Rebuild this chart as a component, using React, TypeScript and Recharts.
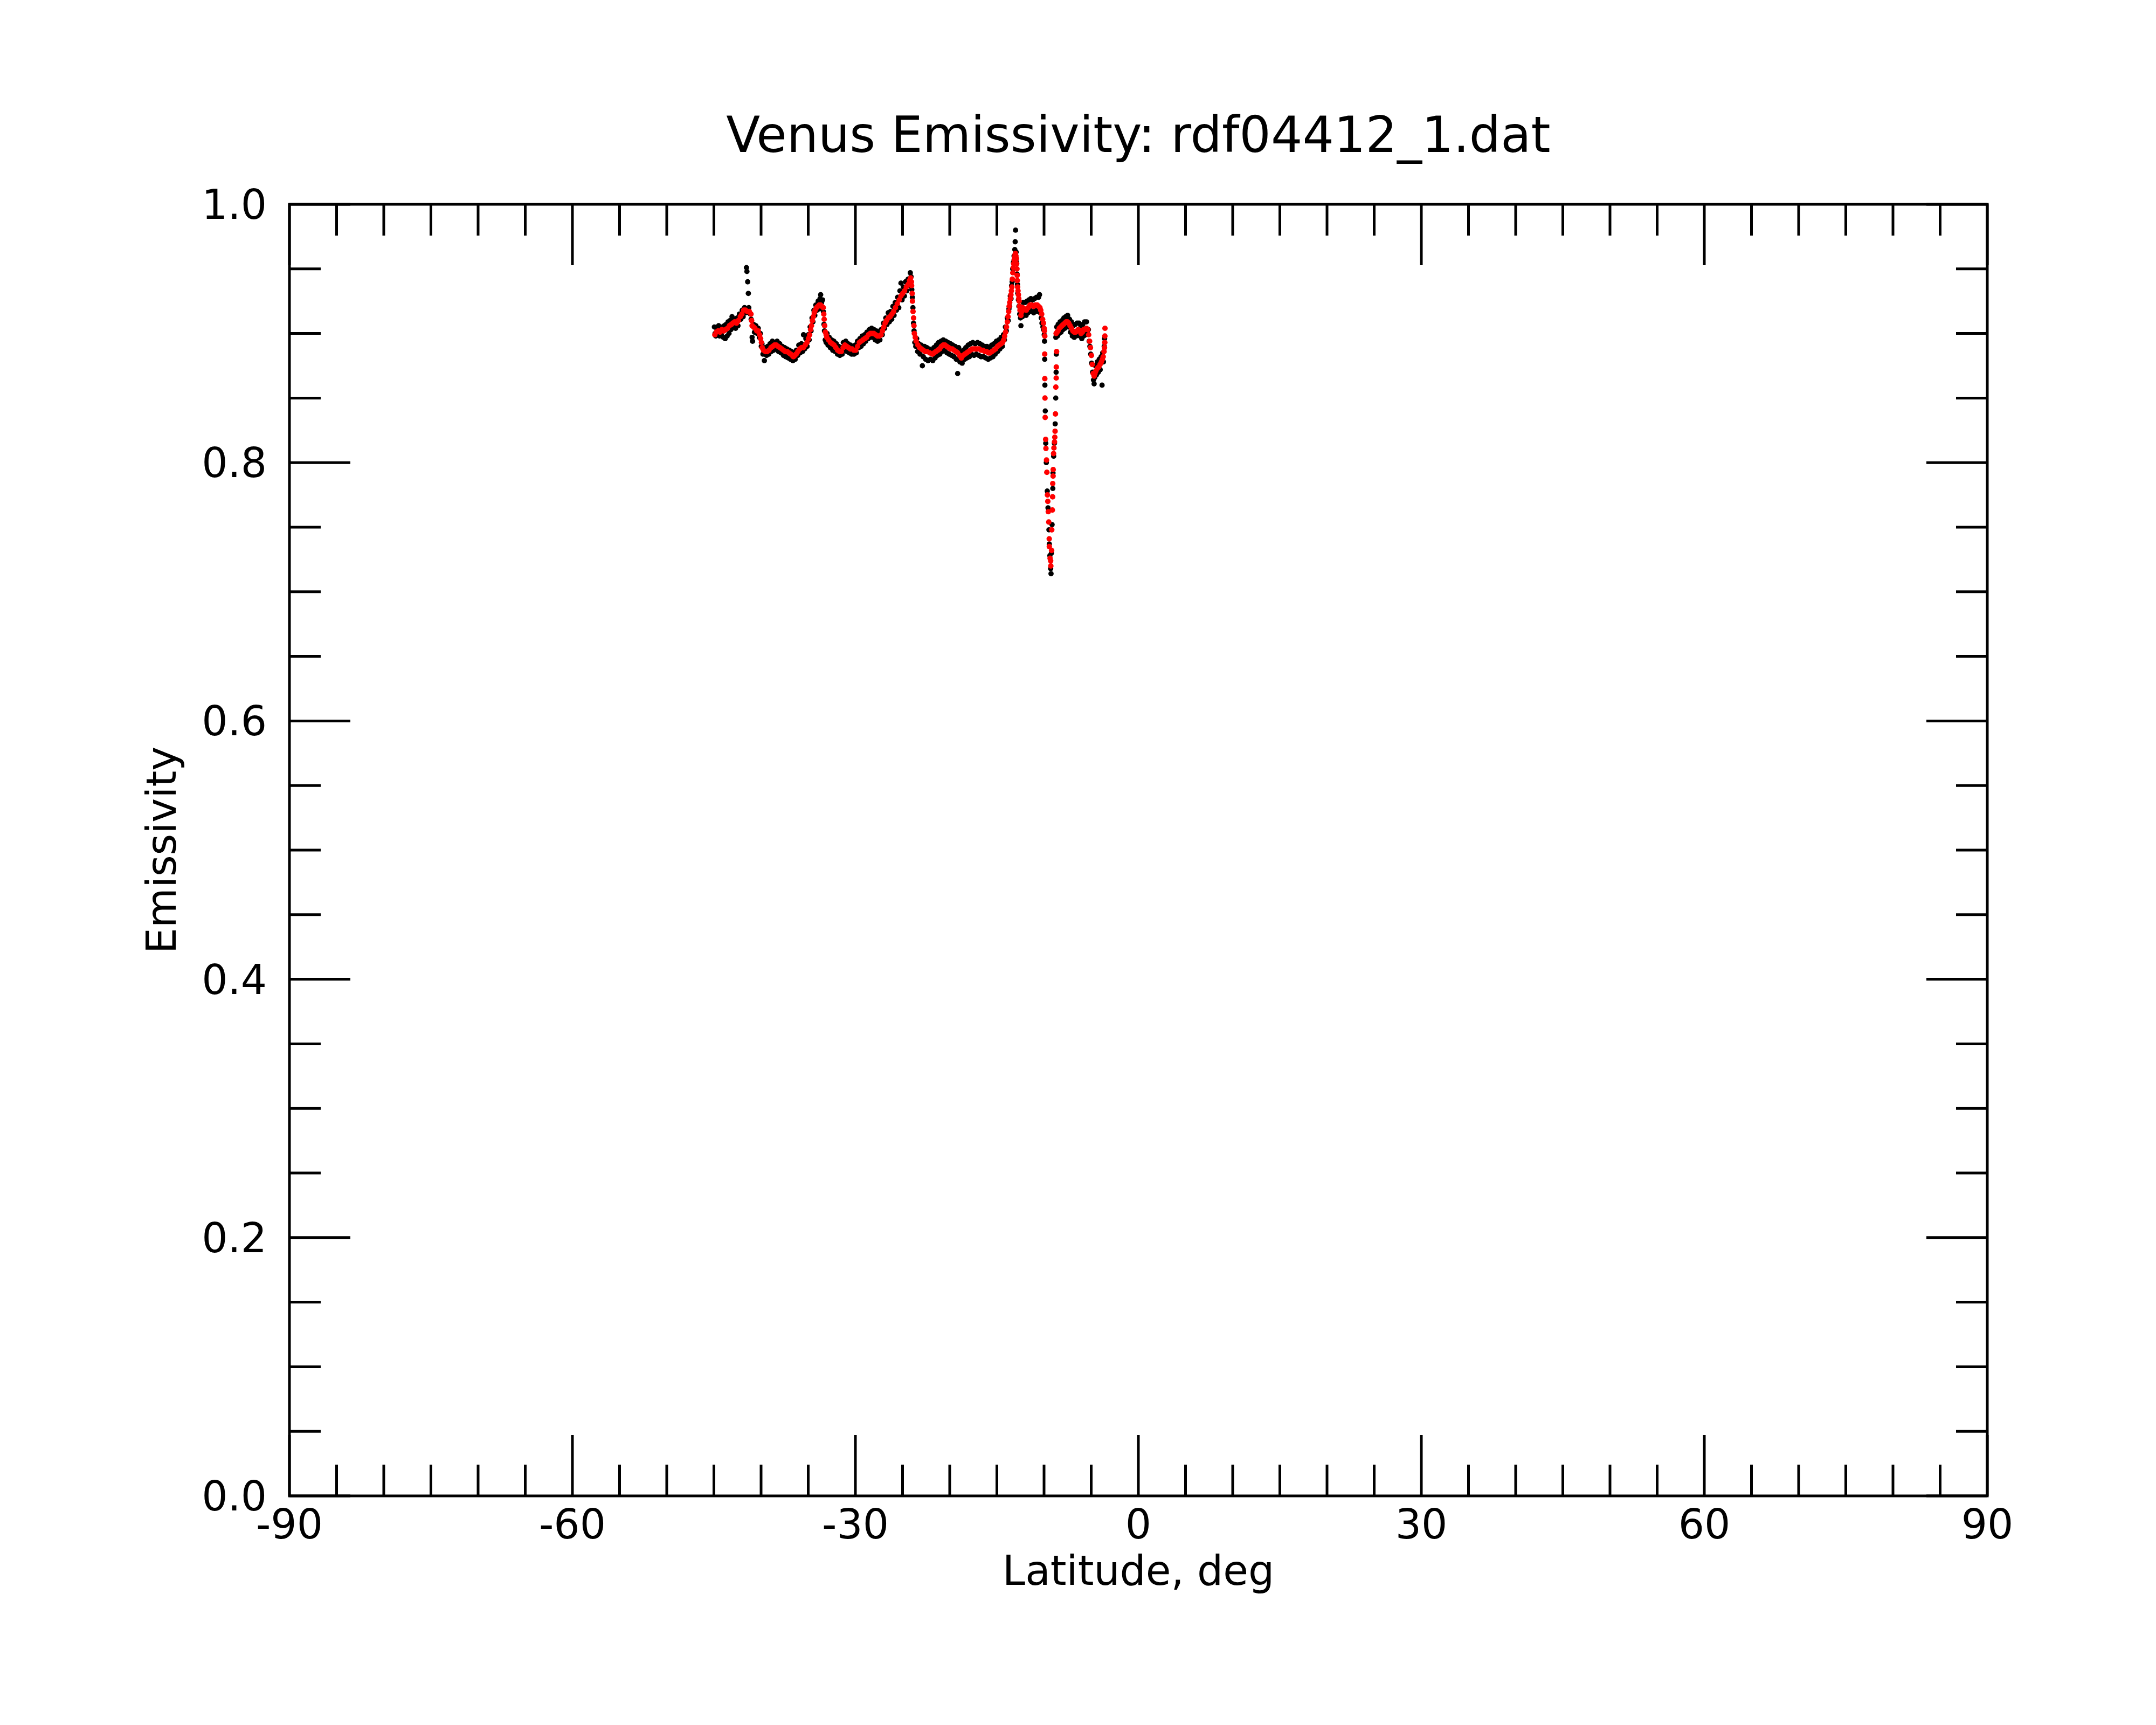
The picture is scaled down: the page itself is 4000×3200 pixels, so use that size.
import { ReferenceArea, Scatter, ScatterChart, XAxis, YAxis } from 'recharts'

const FONT = '"DejaVu Sans", sans-serif'

const title = 'Venus Emissivity: rdf04412_1.dat'
const xLabel = 'Latitude, deg'
const yLabel = 'Emissivity'

const xMajorTicks = [-90, -60, -30, 0, 30, 60, 90]
const xTicks = [
  -90, -85, -80, -75, -70, -65, -60, -55, -50, -45, -40, -35, -30, -25, -20, -15, -10, -5, 0,
  5, 10, 15, 20, 25, 30, 35, 40, 45, 50, 55, 60, 65, 70, 75, 80, 85, 90,
]
const yMajorTicks = [0, 0.2, 0.4, 0.6, 0.8, 1.0]
const yTicks = [
  0, 0.05, 0.1, 0.15, 0.2, 0.25, 0.3, 0.35, 0.4, 0.45, 0.5, 0.55, 0.6, 0.65, 0.7, 0.75, 0.8,
  0.85, 0.9, 0.95, 1.0,
]

// raw emissivity samples (black)
const rawPoints: [number, number][] = [
  [-44.95, 0.905], [-44.88, 0.9], [-44.8, 0.898], [-44.7, 0.904], [-44.62, 0.899], [-44.5, 0.906],
  [-44.4, 0.898], [-44.3, 0.904], [-44.2, 0.899], [-44.1, 0.905], [-44.0, 0.897], [-43.9, 0.906],
  [-43.8, 0.896], [-43.7, 0.907], [-43.6, 0.898], [-43.5, 0.909], [-43.4, 0.9], [-43.3, 0.91],
  [-43.2, 0.903], [-43.08, 0.913], [-42.95, 0.905], [-42.85, 0.911], [-42.7, 0.904], [-42.55, 0.912],
  [-42.45, 0.906], [-42.3, 0.915], [-42.15, 0.911], [-42.0, 0.918], [-41.9, 0.913], [-41.75, 0.92],
  [-41.62, 0.916], [-41.55, 0.951], [-41.5, 0.948], [-41.42, 0.94], [-41.35, 0.931], [-41.3, 0.92],
  [-41.15, 0.915], [-41.05, 0.911], [-40.95, 0.897], [-40.9, 0.894], [-40.8, 0.907], [-40.7, 0.901],
  [-40.55, 0.906], [-40.42, 0.9], [-40.3, 0.904], [-40.18, 0.897], [-40.08, 0.9], [-39.98, 0.89],
  [-39.9, 0.892], [-39.8, 0.884], [-39.65, 0.879], [-39.55, 0.889], [-39.42, 0.883], [-39.3, 0.89],
  [-39.18, 0.884], [-39.05, 0.892], [-38.92, 0.886], [-38.8, 0.894], [-38.68, 0.887], [-38.55, 0.893],
  [-38.42, 0.888], [-38.3, 0.894], [-38.15, 0.886], [-38.02, 0.892], [-37.9, 0.885], [-37.75, 0.89],
  [-37.62, 0.883], [-37.5, 0.889], [-37.38, 0.882], [-37.25, 0.888], [-37.12, 0.881], [-37.0, 0.887],
  [-36.88, 0.88], [-36.75, 0.886], [-36.62, 0.879], [-36.5, 0.885], [-36.38, 0.88], [-36.25, 0.887],
  [-36.12, 0.883], [-36.0, 0.891], [-35.85, 0.885], [-35.72, 0.892], [-35.6, 0.886], [-35.5, 0.899],
  [-35.38, 0.888], [-35.25, 0.896], [-35.12, 0.89], [-35.0, 0.899], [-34.9, 0.895], [-34.8, 0.905],
  [-34.7, 0.902], [-34.6, 0.912], [-34.5, 0.909], [-34.4, 0.918], [-34.3, 0.914], [-34.2, 0.922],
  [-34.08, 0.918], [-33.95, 0.925], [-33.85, 0.919], [-33.75, 0.927], [-33.68, 0.93], [-33.58, 0.924],
  [-33.48, 0.926], [-33.4, 0.917], [-33.33, 0.907], [-33.28, 0.902], [-33.2, 0.895], [-33.1, 0.893],
  [-33.0, 0.9], [-32.9, 0.891], [-32.78, 0.897], [-32.65, 0.889], [-32.52, 0.895], [-32.4, 0.887],
  [-32.28, 0.894], [-32.15, 0.886], [-32.02, 0.892], [-31.9, 0.884], [-31.78, 0.89], [-31.65, 0.883],
  [-31.52, 0.889], [-31.4, 0.884], [-31.28, 0.893], [-31.15, 0.887], [-31.02, 0.894], [-30.9, 0.886],
  [-30.78, 0.892], [-30.65, 0.885], [-30.52, 0.891], [-30.4, 0.884], [-30.28, 0.89], [-30.15, 0.884],
  [-30.02, 0.891], [-29.9, 0.885], [-29.78, 0.894], [-29.65, 0.889], [-29.52, 0.896], [-29.4, 0.89],
  [-29.28, 0.898], [-29.15, 0.892], [-29.02, 0.899], [-28.9, 0.894], [-28.78, 0.901], [-28.65, 0.896],
  [-28.52, 0.903], [-28.4, 0.897], [-28.28, 0.904], [-28.15, 0.897], [-28.02, 0.903], [-27.9, 0.895],
  [-27.78, 0.902], [-27.65, 0.894], [-27.52, 0.901], [-27.4, 0.895], [-27.28, 0.903], [-27.15, 0.899],
  [-27.02, 0.908], [-26.9, 0.904], [-26.78, 0.912], [-26.65, 0.907], [-26.52, 0.916], [-26.4, 0.909],
  [-26.28, 0.917], [-26.15, 0.911], [-26.02, 0.921], [-25.9, 0.914], [-25.78, 0.924], [-25.65, 0.918],
  [-25.52, 0.928], [-25.4, 0.92], [-25.28, 0.933], [-25.17, 0.939], [-25.05, 0.926], [-24.92, 0.936],
  [-24.8, 0.929], [-24.68, 0.94], [-24.55, 0.933], [-24.42, 0.942], [-24.3, 0.937], [-24.18, 0.947],
  [-24.1, 0.944], [-24.02, 0.934], [-23.96, 0.928], [-23.9, 0.92], [-23.84, 0.908], [-23.78, 0.902],
  [-23.7, 0.893], [-23.6, 0.89], [-23.5, 0.896], [-23.4, 0.886], [-23.28, 0.892], [-23.15, 0.884],
  [-23.02, 0.891], [-22.9, 0.875], [-22.8, 0.882], [-22.68, 0.89], [-22.55, 0.88], [-22.42, 0.889],
  [-22.3, 0.879], [-22.18, 0.888], [-22.05, 0.88], [-21.92, 0.887], [-21.8, 0.879], [-21.68, 0.889],
  [-21.55, 0.881], [-21.42, 0.891], [-21.3, 0.883], [-21.18, 0.893], [-21.05, 0.884], [-20.92, 0.894],
  [-20.8, 0.886], [-20.68, 0.895], [-20.55, 0.887], [-20.42, 0.894], [-20.3, 0.885], [-20.18, 0.893],
  [-20.05, 0.884], [-19.92, 0.892], [-19.8, 0.883], [-19.68, 0.891], [-19.55, 0.882], [-19.42, 0.89],
  [-19.3, 0.88], [-19.16, 0.869], [-19.05, 0.889], [-18.92, 0.878], [-18.8, 0.886], [-18.68, 0.877],
  [-18.55, 0.887], [-18.42, 0.88], [-18.3, 0.889], [-18.18, 0.881], [-18.05, 0.891], [-17.92, 0.882],
  [-17.8, 0.892], [-17.68, 0.884], [-17.55, 0.893], [-17.42, 0.883], [-17.3, 0.892], [-17.18, 0.884],
  [-17.05, 0.893], [-16.92, 0.883], [-16.8, 0.892], [-16.68, 0.882], [-16.55, 0.891], [-16.42, 0.882],
  [-16.3, 0.89], [-16.18, 0.881], [-16.05, 0.89], [-15.92, 0.88], [-15.8, 0.889], [-15.68, 0.881],
  [-15.55, 0.891], [-15.42, 0.882], [-15.3, 0.892], [-15.18, 0.884], [-15.05, 0.894], [-14.92, 0.886],
  [-14.8, 0.895], [-14.68, 0.888], [-14.55, 0.897], [-14.42, 0.89], [-14.3, 0.899], [-14.2, 0.895],
  [-14.1, 0.905], [-14.0, 0.902], [-13.9, 0.912], [-13.8, 0.91], [-13.72, 0.919], [-13.65, 0.921],
  [-13.58, 0.929], [-13.5, 0.927], [-13.44, 0.937], [-13.38, 0.94], [-13.32, 0.95], [-13.25, 0.955],
  [-13.18, 0.96], [-13.1, 0.965], [-13.06, 0.971], [-13.02, 0.98], [-12.96, 0.963], [-12.91, 0.955],
  [-12.86, 0.946], [-12.82, 0.938], [-12.78, 0.931], [-12.72, 0.926], [-12.66, 0.921], [-12.58, 0.915],
  [-12.5, 0.912], [-12.45, 0.906], [-12.38, 0.92], [-12.3, 0.913], [-12.2, 0.924], [-12.1, 0.915],
  [-12.0, 0.924], [-11.9, 0.914], [-11.8, 0.925], [-11.7, 0.916], [-11.6, 0.926], [-11.5, 0.918],
  [-11.4, 0.927], [-11.3, 0.917], [-11.2, 0.926], [-11.1, 0.916], [-11.0, 0.927], [-10.9, 0.918],
  [-10.8, 0.928], [-10.7, 0.917], [-10.58, 0.928], [-10.48, 0.93], [-10.4, 0.916], [-10.3, 0.912],
  [-10.22, 0.908], [-10.12, 0.905], [-10.05, 0.903], [-9.98, 0.899], [-9.95, 0.894],
  [-9.93, 0.88], [-9.91, 0.86], [-9.87, 0.84], [-9.82, 0.815], [-9.76, 0.8], [-9.66, 0.778],
  [-9.58, 0.765], [-9.48, 0.748], [-9.44, 0.737], [-9.38, 0.728], [-9.3, 0.718], [-9.26, 0.714],
  [-9.22, 0.73], [-9.15, 0.752], [-9.07, 0.78], [-9.05, 0.792], [-8.98, 0.805], [-8.9, 0.815],
  [-8.82, 0.83], [-8.76, 0.85], [-8.72, 0.87], [-8.7, 0.884],
  [-8.75, 0.897], [-8.66, 0.905], [-8.58, 0.898], [-8.5, 0.907], [-8.4, 0.9], [-8.3, 0.909],
  [-8.2, 0.901], [-8.1, 0.91], [-8.0, 0.903], [-7.9, 0.912], [-7.8, 0.904], [-7.7, 0.913],
  [-7.6, 0.905], [-7.5, 0.914], [-7.4, 0.905], [-7.3, 0.911], [-7.2, 0.901], [-7.1, 0.909],
  [-7.0, 0.898], [-6.9, 0.906], [-6.8, 0.897], [-6.7, 0.907], [-6.6, 0.898], [-6.5, 0.908],
  [-6.4, 0.899], [-6.3, 0.908], [-6.2, 0.898], [-6.1, 0.906], [-6.0, 0.896], [-5.9, 0.907],
  [-5.8, 0.898], [-5.7, 0.909], [-5.6, 0.899], [-5.5, 0.909], [-5.4, 0.9], [-5.3, 0.903],
  [-5.22, 0.894], [-5.14, 0.89], [-5.05, 0.884], [-4.96, 0.877], [-4.86, 0.87], [-4.76, 0.864],
  [-4.69, 0.861], [-4.62, 0.866], [-4.55, 0.875], [-4.45, 0.868], [-4.35, 0.878], [-4.25, 0.87],
  [-4.15, 0.88], [-4.05, 0.872], [-3.95, 0.882], [-3.85, 0.86], [-3.78, 0.885], [-3.7, 0.878],
  [-3.62, 0.89], [-3.58, 0.896],
]

// smoothed emissivity (red)
const smoothPoints: [number, number][] = [
  [-44.9, 0.899], [-44.75, 0.901], [-44.55, 0.902], [-44.35, 0.901], [-44.15, 0.903], [-43.95, 0.902],
  [-43.75, 0.903], [-43.56, 0.904], [-43.35, 0.906], [-43.15, 0.907], [-42.99, 0.908], [-42.8, 0.909],
  [-42.6, 0.908], [-42.41, 0.91], [-42.2, 0.913], [-42.03, 0.915], [-41.84, 0.918], [-41.65, 0.918],
  [-41.46, 0.917], [-41.25, 0.917], [-41.07, 0.915], [-41.0, 0.91], [-40.95, 0.906], [-40.8, 0.905],
  [-40.65, 0.904], [-40.45, 0.902], [-40.3, 0.902], [-40.15, 0.899], [-40.05, 0.896], [-39.96, 0.893],
  [-39.88, 0.889], [-39.75, 0.887], [-39.54, 0.886], [-39.35, 0.886], [-39.16, 0.887], [-38.95, 0.889],
  [-38.77, 0.89], [-38.58, 0.891], [-38.39, 0.891], [-38.2, 0.89], [-38.0, 0.889], [-37.8, 0.888],
  [-37.62, 0.887], [-37.43, 0.886], [-37.24, 0.886], [-37.05, 0.885], [-36.86, 0.884], [-36.7, 0.883],
  [-36.57, 0.882], [-36.42, 0.883], [-36.28, 0.884], [-36.1, 0.886], [-35.9, 0.888], [-35.7, 0.889],
  [-35.52, 0.889], [-35.32, 0.891], [-35.13, 0.893], [-34.98, 0.896], [-34.85, 0.899], [-34.75, 0.903],
  [-34.66, 0.906], [-34.56, 0.91], [-34.46, 0.913], [-34.36, 0.916], [-34.27, 0.918], [-34.12, 0.92],
  [-33.98, 0.921], [-33.84, 0.922], [-33.7, 0.922], [-33.55, 0.921], [-33.41, 0.92], [-33.35, 0.915],
  [-33.31, 0.911], [-33.26, 0.906], [-33.18, 0.901], [-33.1, 0.899], [-33.03, 0.897], [-32.84, 0.895],
  [-32.64, 0.893], [-32.45, 0.892], [-32.26, 0.891], [-32.07, 0.889], [-31.88, 0.887], [-31.68, 0.886],
  [-31.49, 0.886], [-31.3, 0.889], [-31.11, 0.891], [-30.92, 0.89], [-30.73, 0.889], [-30.53, 0.888],
  [-30.34, 0.888], [-30.15, 0.887], [-29.96, 0.887], [-29.77, 0.89], [-29.58, 0.893], [-29.4, 0.894],
  [-29.2, 0.895], [-29.0, 0.896], [-28.81, 0.897], [-28.62, 0.899], [-28.43, 0.9], [-28.24, 0.9],
  [-28.05, 0.9], [-27.85, 0.899], [-27.66, 0.898], [-27.47, 0.898], [-27.28, 0.899], [-27.13, 0.902],
  [-26.99, 0.905], [-26.85, 0.908], [-26.7, 0.91], [-26.5, 0.912], [-26.32, 0.913], [-26.13, 0.915],
  [-25.94, 0.917], [-25.75, 0.92], [-25.56, 0.923], [-25.36, 0.926], [-25.17, 0.929], [-24.98, 0.931],
  [-24.79, 0.933], [-24.6, 0.936], [-24.41, 0.938], [-24.26, 0.941], [-24.14, 0.943], [-24.06, 0.94],
  [-24.04, 0.937], [-23.98, 0.931], [-23.95, 0.925], [-23.89, 0.917], [-23.83, 0.912], [-23.79, 0.906],
  [-23.75, 0.9], [-23.65, 0.897], [-23.56, 0.894], [-23.37, 0.891], [-23.18, 0.889], [-22.99, 0.888],
  [-22.8, 0.887], [-22.6, 0.886], [-22.41, 0.886], [-22.12, 0.885], [-21.84, 0.884], [-21.65, 0.885],
  [-21.46, 0.886], [-21.27, 0.887], [-21.07, 0.888], [-20.88, 0.89], [-20.69, 0.891], [-20.5, 0.891],
  [-20.31, 0.89], [-20.12, 0.889], [-19.92, 0.888], [-19.73, 0.888], [-19.54, 0.887], [-19.35, 0.886],
  [-19.16, 0.885], [-18.96, 0.883], [-18.77, 0.881], [-18.58, 0.883], [-18.39, 0.884], [-18.2, 0.885],
  [-18.0, 0.886], [-17.81, 0.887], [-17.62, 0.888], [-17.43, 0.888], [-17.24, 0.888], [-17.05, 0.888],
  [-16.86, 0.888], [-16.67, 0.887], [-16.48, 0.887], [-16.28, 0.886], [-16.09, 0.886], [-15.9, 0.885],
  [-15.71, 0.885], [-15.52, 0.886], [-15.33, 0.887], [-15.14, 0.888], [-14.94, 0.89], [-14.75, 0.891],
  [-14.56, 0.892], [-14.4, 0.893], [-14.27, 0.895], [-14.18, 0.898], [-14.08, 0.901], [-13.98, 0.905],
  [-13.89, 0.909], [-13.82, 0.913], [-13.75, 0.917], [-13.7, 0.921], [-13.64, 0.924], [-13.57, 0.927],
  [-13.51, 0.93], [-13.46, 0.933], [-13.41, 0.936], [-13.36, 0.942], [-13.31, 0.947], [-13.26, 0.951],
  [-13.22, 0.954], [-13.17, 0.957], [-13.12, 0.959], [-13.07, 0.961], [-13.03, 0.962], [-12.98, 0.96],
  [-12.93, 0.958], [-12.9, 0.954], [-12.87, 0.95], [-12.85, 0.945], [-12.84, 0.941], [-12.8, 0.936],
  [-12.76, 0.933], [-12.72, 0.93], [-12.68, 0.927], [-12.64, 0.925], [-12.6, 0.921], [-12.55, 0.918],
  [-12.45, 0.914], [-12.35, 0.917], [-12.26, 0.92], [-12.07, 0.919], [-11.88, 0.918], [-11.68, 0.92],
  [-11.49, 0.922], [-11.3, 0.922], [-11.11, 0.921], [-10.92, 0.922], [-10.73, 0.922], [-10.58, 0.921],
  [-10.44, 0.92], [-10.35, 0.918], [-10.25, 0.915], [-10.15, 0.911], [-10.06, 0.908], [-9.99, 0.904],
  [-9.96, 0.902], [-9.92, 0.898],
  [-9.93, 0.884], [-9.92, 0.865], [-9.9, 0.85], [-9.88, 0.835], [-9.83, 0.818], [-9.8, 0.811],
  [-9.74, 0.802], [-9.7, 0.7925], [-9.64, 0.775], [-9.6, 0.77], [-9.55, 0.762], [-9.5, 0.754],
  [-9.45, 0.741], [-9.44, 0.735], [-9.36, 0.726], [-9.3, 0.724], [-9.28, 0.72],
  [-9.2, 0.732], [-9.18, 0.748], [-9.12, 0.7633], [-9.09, 0.7735], [-9.08, 0.7838], [-9.04, 0.7896],
  [-9.03, 0.7946], [-8.99, 0.807], [-8.95, 0.8114], [-8.89, 0.816], [-8.86, 0.8197], [-8.83, 0.8243],
  [-8.79, 0.8377], [-8.75, 0.8585], [-8.71, 0.8655], [-8.7, 0.874], [-8.67, 0.886],
  [-8.72, 0.9], [-8.62, 0.901], [-8.52, 0.902], [-8.38, 0.904], [-8.24, 0.905], [-8.1, 0.906],
  [-7.95, 0.907], [-7.8, 0.908], [-7.66, 0.909], [-7.52, 0.909], [-7.38, 0.908], [-7.24, 0.906],
  [-7.09, 0.904], [-6.95, 0.902], [-6.8, 0.901], [-6.65, 0.901], [-6.51, 0.902], [-6.37, 0.903],
  [-6.23, 0.902], [-6.08, 0.9], [-5.94, 0.901], [-5.8, 0.903], [-5.65, 0.903], [-5.5, 0.904],
  [-5.36, 0.903], [-5.27, 0.899], [-5.17, 0.894], [-5.08, 0.889], [-4.98, 0.883], [-4.89, 0.876],
  [-4.79, 0.869], [-4.69, 0.867], [-4.6, 0.869], [-4.5, 0.871], [-4.35, 0.873], [-4.21, 0.874],
  [-4.06, 0.876], [-3.92, 0.878], [-3.82, 0.88], [-3.73, 0.882], [-3.64, 0.886], [-3.59, 0.889],
  [-3.56, 0.893], [-3.55, 0.898], [-3.54, 0.904],
]

const rawData = rawPoints.map(([lat, emissivity]) => ({ lat, emissivity }))
const smoothData = smoothPoints.map(([lat, emissivity]) => ({ lat, emissivity }))

const MAJOR_LEN = 113
const MINOR_LEN = 58
const STROKE = 5

const isMajor = (v: number, majors: number[]) => majors.some((m) => Math.abs(m - v) < 1e-6)

function BottomTick({ x, y, payload }: any) {
  const major = isMajor(payload.value, xMajorTicks)
  return (
    <g>
      <line x1={x} y1={y} x2={x} y2={y - (major ? MAJOR_LEN : MINOR_LEN)} stroke="#000" strokeWidth={STROKE} />
      {major && (
        <text x={x} y={y + 79} textAnchor="middle" fontSize={76} fontFamily={FONT} fill="#000">
          {payload.value}
        </text>
      )}
    </g>
  )
}

function TopTick({ x, y, payload }: any) {
  const major = isMajor(payload.value, xMajorTicks)
  return <line x1={x} y1={y} x2={x} y2={y + (major ? MAJOR_LEN : MINOR_LEN)} stroke="#000" strokeWidth={STROKE} />
}

function LeftTick({ x, y, payload }: any) {
  const major = isMajor(payload.value, yMajorTicks)
  return (
    <g>
      <line x1={x} y1={y} x2={x + (major ? MAJOR_LEN : MINOR_LEN)} y2={y} stroke="#000" strokeWidth={STROKE} />
      {major && (
        <text x={x - 42} y={y + 27} textAnchor="end" fontSize={76} fontFamily={FONT} fill="#000">
          {Number(payload.value).toFixed(1)}
        </text>
      )}
    </g>
  )
}

function RightTick({ x, y, payload }: any) {
  const major = isMajor(payload.value, yMajorTicks)
  return <line x1={x} y1={y} x2={x - (major ? MAJOR_LEN : MINOR_LEN)} y2={y} stroke="#000" strokeWidth={STROKE} />
}

const dot = (color: string, r: number) => (props: any) => <circle cx={props.cx} cy={props.cy} r={r} fill={color} />

export default function App() {
  return (
    <div style={{ position: 'absolute', left: 0, top: 0, width: 4000, height: 3200, background: '#fff' }}>
      <ScatterChart width={4000} height={3200} margin={{ top: 378, right: 312, bottom: 424, left: 536 }}>
        <XAxis
          type="number"
          dataKey="lat"
          domain={[-90, 90]}
          ticks={xTicks}
          interval={0}
          height={1}
          axisLine={false}
          tickLine={false}
          tickSize={0}
          tickMargin={0}
          tick={BottomTick}
        />
        <XAxis
          xAxisId="top"
          orientation="top"
          type="number"
          dataKey="lat"
          domain={[-90, 90]}
          ticks={xTicks}
          interval={0}
          height={1}
          axisLine={false}
          tickLine={false}
          tickSize={0}
          tickMargin={0}
          tick={TopTick}
        />
        <YAxis
          type="number"
          dataKey="emissivity"
          domain={[0, 1]}
          ticks={yTicks}
          interval={0}
          width={1}
          axisLine={false}
          tickLine={false}
          tickSize={0}
          tickMargin={0}
          tick={LeftTick}
        />
        <YAxis
          yAxisId="right"
          orientation="right"
          type="number"
          dataKey="emissivity"
          domain={[0, 1]}
          ticks={yTicks}
          interval={0}
          width={1}
          axisLine={false}
          tickLine={false}
          tickSize={0}
          tickMargin={0}
          tick={RightTick}
        />
        <ReferenceArea x1={-90} x2={90} y1={0} y2={1} fill="none" stroke="#000" strokeWidth={STROKE} />
        <Scatter data={rawData} shape={dot('#000000', 4.9)} isAnimationActive={false} />
        <Scatter
          data={smoothData}
          xAxisId="top"
          yAxisId="right"
          shape={dot('#ff0000', 5.1)}
          isAnimationActive={false}
        />
        <text x={2112} y={282} textAnchor="middle" fontSize={92} fontFamily={FONT} fill="#000">
          {title}
        </text>
        <text x={2112} y={2940} textAnchor="middle" fontSize={76} fontFamily={FONT} fill="#000">
          {xLabel}
        </text>
        <text
          x={326}
          y={1577}
          transform="rotate(-90, 326, 1577)"
          textAnchor="middle"
          fontSize={76}
          fontFamily={FONT}
          fill="#000"
        >
          {yLabel}
        </text>
      </ScatterChart>
    </div>
  )
}
